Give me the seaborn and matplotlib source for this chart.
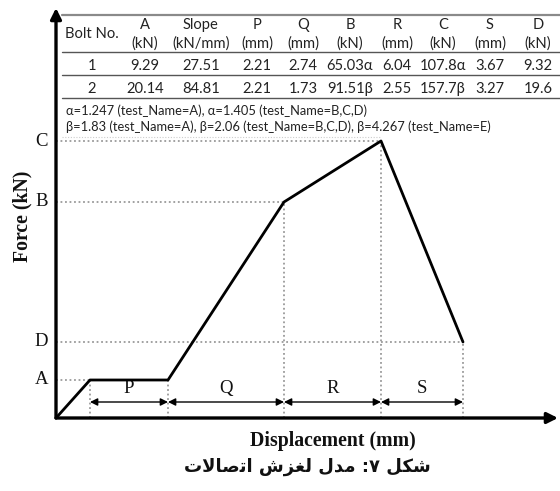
import matplotlib
matplotlib.use("Agg")
import matplotlib.pyplot as plt
from matplotlib.lines import Line2D
import seaborn as sns
import pandas as pd

sns.set_theme(style="white")
plt.rcParams['font.family'] = ['Lato', 'DejaVu Sans']

# ---- data (schematic units) ----
point_names = ["O", "A1", "A2", "B", "C", "D"]
displacement = [0, 34, 112, 228, 325, 407]
force = [0, 38, 38, 216, 277, 76]
level_labels = ["A", "B", "C", "D"]
level_force = [38, 216, 277, 76]
level_disp = [34, 228, 325, 407]
seg_labels = ["P", "Q", "R", "S"]
seg_start = [34, 112, 228, 325]
seg_end = [112, 228, 325, 407]

table_cols = ["Bolt No.", "A", "Slope", "P", "Q", "B", "R", "C", "S", "D"]
table_units = ["", "(kN)", "(kN/mm)", "(mm)", "(mm)", "(kN)", "(mm)", "(kN)", "(mm)", "(kN)"]
row1 = ["1", "9.29", "27.51", "2.21", "2.74", "65.03\u03b1", "6.04", "107.8\u03b1", "3.67", "9.32"]
row2 = ["2", "20.14", "84.81", "2.21", "1.73", "91.51\u03b2", "2.55", "157.7\u03b2", "3.27", "19.6"]
note1 = "\u03b1=1.247 (test_Name=A), \u03b1=1.405 (test_Name=B,C,D)"
note2 = "\u03b2=1.83 (test_Name=A), \u03b2=2.06 (test_Name=B,C,D), \u03b2=4.267 (test_Name=E)"

W, H = 560, 491
fig = plt.figure(figsize=(W / 100, H / 100), dpi=100)
fig.patch.set_facecolor("white")

def fx(px):
    return px / W

def fy(py):
    return 1 - py / H

ox, oy = 56, 418
ax = fig.add_axes([fx(ox), fy(oy), (W - ox) / W, oy / H])
ax.set_xlim(0, W - ox)
ax.set_ylim(0, oy)
ax.axis("off")
ax.patch.set_alpha(0)

df = pd.DataFrame({"point": point_names, "Displacement": displacement, "Force": force})
sns.lineplot(data=df, x="Displacement", y="Force", ax=ax, color="black", lw=2.0,
             sort=False, estimator=None, zorder=5)

dot_kw = dict(color="#9a9a9a", lw=1.3, ls=(0, (1, 1.5)), zorder=1)
for name, fv, dv in zip(level_labels, level_force, level_disp):
    ax.plot([0, dv], [fv, fv], **dot_kw)
    ax.plot([dv, dv], [0, fv], **dot_kw)
    ax.text(-8, fv, name, ha="right", va="center", fontsize=13.5,
            family="Liberation Serif", color="#111111")
# vertical line at end of P (start of Q)
ax.plot([seg_end[0], seg_end[0]], [0, level_force[0]], **dot_kw)

arrow_y = 16
for lab, s, e in zip(seg_labels, seg_start, seg_end):
    ax.annotate("", xy=(e, arrow_y), xytext=(s, arrow_y),
                arrowprops=dict(arrowstyle="<|-|>", color="black", lw=1.0,
                                mutation_scale=11, shrinkA=0, shrinkB=0), zorder=4)
    ax.text((s + e) / 2, arrow_y + 5, lab, ha="center", va="bottom", fontsize=13.5,
            family="Liberation Serif", color="#111111")

# axes with arrows
ax.annotate("", xy=(0, oy - 8), xytext=(0, 0),
            arrowprops=dict(arrowstyle="-|>", color="black", lw=2.4, mutation_scale=16,
                            shrinkA=0, shrinkB=0), zorder=6, annotation_clip=False)
ax.annotate("", xy=(W - ox - 2, 0), xytext=(0, 0),
            arrowprops=dict(arrowstyle="-|>", color="black", lw=2.4, mutation_scale=16,
                            shrinkA=0, shrinkB=0), zorder=6, annotation_clip=False)

# axis labels
fig.text(fx(22), fy(216), "Force (kN)", rotation=90, ha="center", va="center",
         fontsize=14.2, fontweight="bold", family="Liberation Serif", color="#111111")
fig.text(fx(333), fy(441), "Displacement (mm)", ha="center", va="center",
         fontsize=14.2, fontweight="bold", family="Liberation Serif", color="#111111")

# Persian caption (pre-shaped presentation forms, visual order)
logical = ("\uFEB7\uFB91\uFEDE" + " " + "\u06F7:" + " " +
           "\uFEE3\uFEAA\uFEDD" + " " + "\uFEDF\uFED0\uFEB0\uFEB5" + " " +
           "\uFE8D\uFE97\uFEBB\uFE8E\uFEFB\uFE95")
caption = logical[::-1]
fig.text(fx(307), fy(467), caption, ha="center", va="center", fontsize=13,
         fontweight="bold", family=["DejaVu Sans"], color="#111111")

# table
col_x = [92, 145, 201, 257, 303, 350, 397, 443, 490, 538]
tcol = "#222222"
tfs = 10.6
for i, (c, u, x) in enumerate(zip(table_cols, table_units, col_x)):
    if u:
        fig.text(fx(x), fy(25), c, ha="center", va="center", fontsize=tfs, color=tcol)
        fig.text(fx(x), fy(44), u, ha="center", va="center", fontsize=tfs, color=tcol)
    else:
        fig.text(fx(x), fy(34), c, ha="center", va="center", fontsize=tfs, color=tcol)
for r, yy in ((row1, 66), (row2, 89)):
    for v, x in zip(r, col_x):
        fig.text(fx(x), fy(yy), v, ha="center", va="center", fontsize=tfs, color=tcol)
fig.text(fx(66), fy(111), note1, ha="left", va="center", fontsize=9.25, color=tcol)
fig.text(fx(66), fy(127), note2, ha="left", va="center", fontsize=9.25, color=tcol)

for yy, lw, colr in ((15, 1.6, "#8a8a8a"), (52, 1.0, "#555555"), (75, 1.0, "#555555"), (98, 1.0, "#555555")):
    fig.add_artist(Line2D([fx(62), fx(560)], [fy(yy), fy(yy)], color=colr, lw=lw))
fig.add_artist(Line2D([fx(62), fx(380)], [fy(137), fy(137)], color="#cccccc", lw=0.8,
                      ls=(0, (1, 1.5))))

fig.savefig("out.png", dpi=100, facecolor="white")
